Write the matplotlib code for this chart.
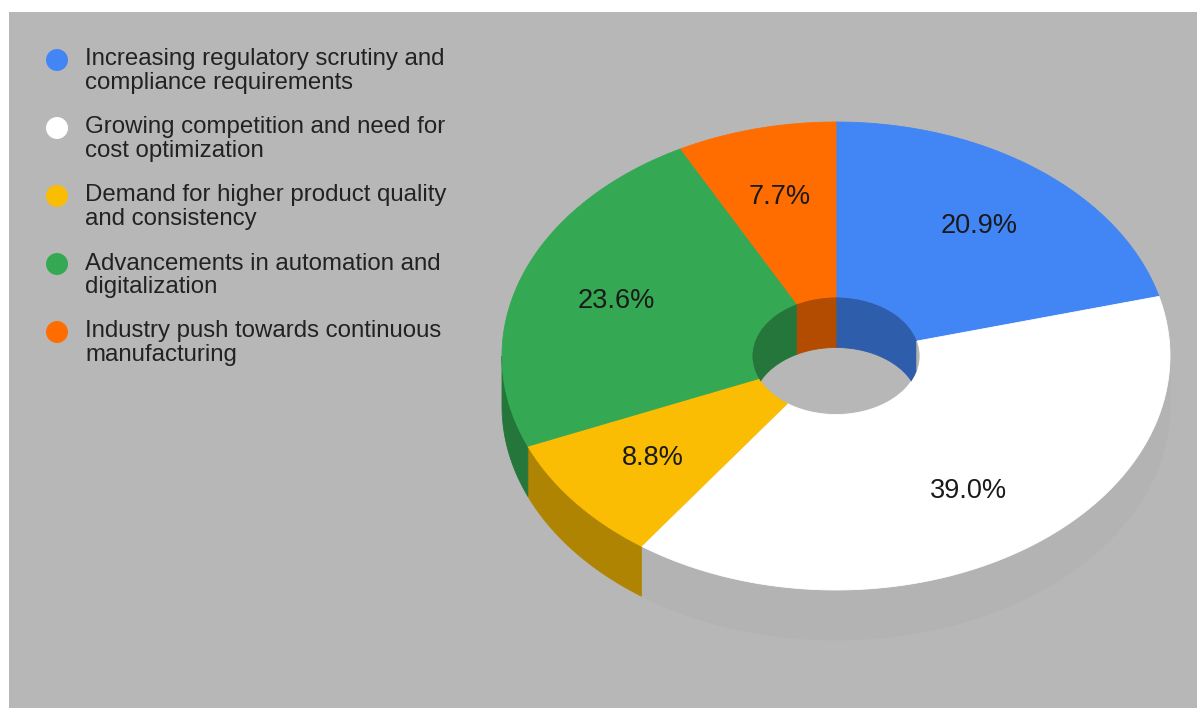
import numpy as np
import matplotlib
matplotlib.use("Agg")
import matplotlib.pyplot as plt
from matplotlib.patches import Polygon, Ellipse

plt.rcParams['font.family'] = ['Liberation Sans', 'DejaVu Sans']

# share of each driver, clockwise from 12 o'clock
drivers = ['Increasing regulatory scrutiny and\ncompliance requirements',
           'Growing competition and need for\ncost optimization',
           'Demand for higher product quality\nand consistency',
           'Advancements in automation and\ndigitalization',
           'Industry push towards continuous\nmanufacturing']
shares = [20.9, 39.0, 8.8, 23.6, 7.7]
colors = ['#4285f4', '#ffffff', '#fbbc04', '#34a853', '#ff6d01']

bg = '#b7b7b7'
W, H = 1197, 708

# pie geometry (pixel units, y grows downward)
cx, cy = 836, 356
rx, ry = 334, 234
hole = 0.25
depth = 50


def darker(c, k=0.7):
    r, g, b = matplotlib.colors.to_rgb(c)
    return (r * k, g * k, b * k)


def arc(t0, t1, sx, sy, dy=0, n=200):
    t = np.linspace(t0, t1, n)
    return np.column_stack([cx + sx * np.sin(t), cy - sy * np.cos(t) + dy])


def clip_range(a0, a1, lo, hi):
    s, e = max(a0, lo), min(a1, hi)
    return (s, e) if e > s else None


fig = plt.figure(figsize=(W / 100, H / 100), dpi=100, facecolor='white')
ax = fig.add_axes([9 / W, 0, (W - 9) / W, (H - 12) / H])
ax.set_xlim(9, W)
ax.set_ylim(H, 12)
ax.set_facecolor(bg)
ax.set_xticks([])
ax.set_yticks([])
for s in ax.spines.values():
    s.set_visible(False)

fr = np.array(shares) / sum(shares)
edges = np.concatenate([[0], np.cumsum(fr)]) * 2 * np.pi

# outer side wall, front half only
for i, c in enumerate(colors):
    rng = clip_range(edges[i], edges[i + 1], np.pi / 2, 3 * np.pi / 2)
    if rng is None:
        continue
    top = arc(rng[0], rng[1], rx, ry)
    bot = arc(rng[0], rng[1], rx, ry, dy=depth)[::-1]
    dc = darker(c)
    ax.add_patch(Polygon(np.vstack([top, bot]), closed=True, fc=dc, ec=dc, lw=0.6))

# top faces as ring sectors
for i, c in enumerate(colors):
    outer = arc(edges[i], edges[i + 1], rx, ry)
    inner = arc(edges[i], edges[i + 1], rx * hole, ry * hole)[::-1]
    ax.add_patch(Polygon(np.vstack([outer, inner]), closed=True, fc=c, ec=c, lw=0.6))

# inner wall seen through the hole (back half)
hole_clip = Ellipse((cx, cy), 2 * rx * hole, 2 * ry * hole, fc='none', ec='none')
ax.add_patch(hole_clip)
for i, c in enumerate(colors):
    for lo, hi in [(-np.pi / 2, np.pi / 2), (3 * np.pi / 2, 5 * np.pi / 2)]:
        rng = clip_range(edges[i], edges[i + 1], lo, hi)
        if rng is None:
            continue
        top = arc(rng[0], rng[1], rx * hole, ry * hole)
        bot = arc(rng[0], rng[1], rx * hole, ry * hole, dy=depth)[::-1]
        dc = darker(c)
        p = Polygon(np.vstack([top, bot]), closed=True, fc=dc, ec=dc, lw=0.6)
        ax.add_patch(p)
        p.set_clip_path(hole_clip)

# percentage labels
for i, v in enumerate(shares):
    mid = (edges[i] + edges[i + 1]) / 2
    x = cx + 0.7 * rx * np.sin(mid)
    y = cy - 0.7 * ry * np.cos(mid)
    ax.text(x, y, f'{v:.1f}%', ha='center', va='center', fontsize=19.5, color='#1a1a1a')

# legend
for i, (name, c) in enumerate(zip(drivers, colors)):
    y0 = 60 + 68 * i
    ax.scatter([57], [y0], s=250, color=c, edgecolors='none', zorder=3)
    for j, line in enumerate(name.split('\n')):
        ax.text(85, y0 + 5.5 + 23.5 * j, line, ha='left', va='baseline',
                fontsize=17.3, color='#222222')

fig.savefig('out.png', dpi=100, facecolor='white')
